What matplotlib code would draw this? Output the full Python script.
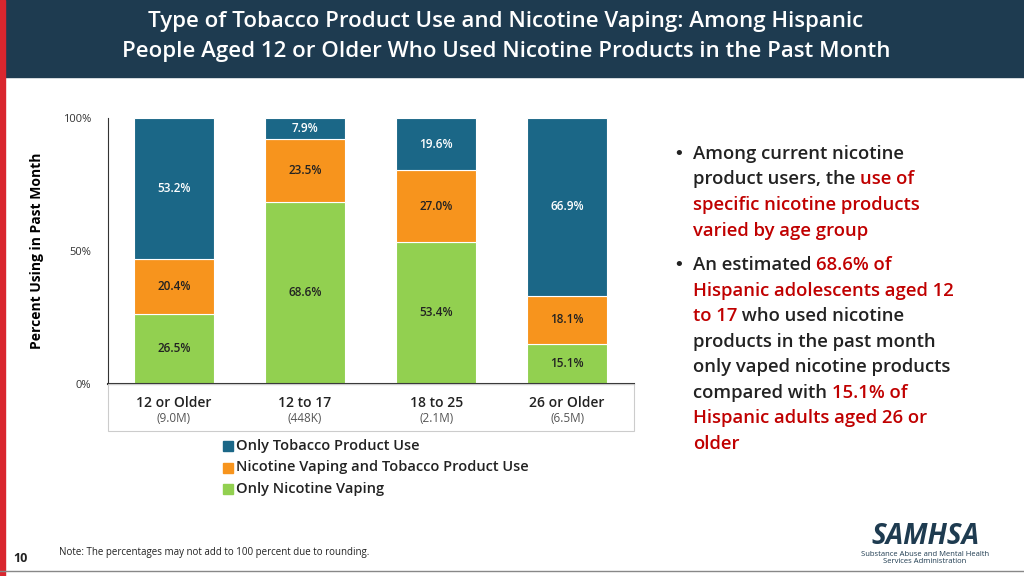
import matplotlib
matplotlib.use("Agg")
import matplotlib.pyplot as plt
from matplotlib.patches import Rectangle

categories = ["12 or Older", "12 to 17", "18 to 25", "26 or Older"]
sizes = ["(9.0M)", "(448K)", "(2.1M)", "(6.5M)"]
only_vaping = [26.5, 68.6, 53.4, 15.1]
both = [20.4, 23.5, 27.0, 18.1]
only_tobacco = [53.2, 7.9, 19.6, 66.9]
series_names = ["Only Tobacco Product Use", "Nicotine Vaping and Tobacco Product Use", "Only Nicotine Vaping"]
c_tob, c_both, c_vap = "#1b6787", "#f7941d", "#92d050"
FONT = "Open Sans"

fig = plt.figure(figsize=(10.24, 5.76), dpi=100)
fig.patch.set_facecolor("white")
fig.add_artist(Rectangle((0, 1-77/576), 1, 77/576, transform=fig.transFigure, color="#1e3b50"))
fig.add_artist(Rectangle((0, 0), 5/1024, 1, transform=fig.transFigure, color="#d9262e"))
fig.text(506/1024, 1-22/576, "Type of Tobacco Product Use and Nicotine Vaping: Among Hispanic",
         ha="center", va="center", color="white", fontsize=16, family=FONT, weight="semibold")
fig.text(506/1024, 1-52/576, "People Aged 12 or Older Who Used Nicotine Products in the Past Month",
         ha="center", va="center", color="white", fontsize=16, family=FONT, weight="semibold")

ax = fig.add_axes([108/1024, 1-384/576, 526/1024, 266/576])
x = range(len(categories))
w = 0.61
ax.bar(x, only_vaping, w, color=c_vap, edgecolor="white", linewidth=0.8)
ax.bar(x, both, w, bottom=only_vaping, color=c_both, edgecolor="white", linewidth=0.8)
b2 = [a + b for a, b in zip(only_vaping, both)]
ax.bar(x, only_tobacco, w, bottom=b2, color=c_tob, edgecolor="white", linewidth=0.8)
for i in x:
    ax.text(i, only_vaping[i]/2, f"{only_vaping[i]:.1f}%", ha="center", va="center", fontsize=8.5, family=FONT, weight="semibold", color="#222")
    ax.text(i, only_vaping[i] + both[i]/2, f"{both[i]:.1f}%", ha="center", va="center", fontsize=8.5, family=FONT, weight="semibold", color="#222")
    ax.text(i, b2[i] + only_tobacco[i]/2, f"{only_tobacco[i]:.1f}%", ha="center", va="center", fontsize=8.5, family=FONT, weight="semibold", color="white")
ax.set_xlim(-0.504, 3.51)
ax.set_ylim(0, 100)
ax.set_yticks([0, 50, 100])
ax.set_yticklabels(["0%", "50%", "100%"], fontsize=8, family=FONT, color="#333")
ax.tick_params(axis="y", length=0, pad=12)
ax.set_xticks([])
for s in ["top", "right"]:
    ax.spines[s].set_visible(False)
ax.spines["left"].set_color("#333")
ax.spines["bottom"].set_color("#333")
ax.spines["bottom"].set_linewidth(1.5)
ax.set_ylabel("Percent Using in Past Month", fontsize=10, family=FONT, weight="bold", labelpad=14)
for i in x:
    ax.text(i, -7, categories[i], ha="center", va="center", fontsize=10, family=FONT, weight="semibold", color="#222")
    ax.text(i, -13, sizes[i], ha="center", va="center", fontsize=8.5, family=FONT, color="#555")
fig.add_artist(Rectangle((108/1024, 1-431/576), 526/1024, 47/576, transform=fig.transFigure,
                         fill=False, edgecolor="#cccccc", linewidth=0.8))
for j, (name, col) in enumerate(zip(series_names, [c_tob, c_both, c_vap])):
    yy = 1 - (446 + 21.5*j)/576
    fig.add_artist(Rectangle((223/1024, yy-5/576), 10/1024, 10/576, transform=fig.transFigure, color=col))
    fig.text(236/1024, yy, name, va="center", fontsize=10.5, family=FONT, weight="semibold", color="#222")

red = "#c00000"
lines = [
    [("Among current nicotine", "#222")],
    [("product users, the ", "#222"), ("use of", red)],
    [("specific nicotine products", red)],
    [("varied by age group", red)],
    None,
    [("An estimated ", "#222"), ("68.6% of", red)],
    [("Hispanic adolescents aged 12", red)],
    [("to 17", red), (" who used nicotine", "#222")],
    [("products in the past month", "#222")],
    [("only vaped nicotine products", "#222")],
    [("compared with ", "#222"), ("15.1% of", red)],
    [("Hispanic adults aged 26 or", red)],
    [("older", red)],
]
fig.canvas.draw()
r = fig.canvas.get_renderer()
ys = [154, 179, 205, 231, None, 265, 291, 316, 342, 367, 393, 418, 444]
for ln, yp in zip(lines, ys):
    if ln is None:
        continue
    xp = 693
    for txt, col in ln:
        t = fig.text(xp/1024, 1-yp/576, txt, va="center", fontsize=13.3, family=FONT, weight="semibold", color=col)
        bb = t.get_window_extent(r)
        xp += bb.width
for yp in [154, 265]:
    fig.text(673/1024, 1-yp/576, "•", va="center", fontsize=13, color="#222")

fig.text(59/1024, 1-553/576, "Note: The percentages may not add to 100 percent due to rounding.", va="center", fontsize=7, family=FONT, color="#222")
fig.text(13/1024, 1-559/576, "10", va="center", fontsize=9, family=FONT, weight="bold", color="#222")
fig.add_artist(plt.Line2D([0, 1], [1-571/576]*2, transform=fig.transFigure, color="#888", lw=1))
fig.text(925/1024, 1-536/576, "SAMHSA", ha="center", va="center", fontsize=20, family=FONT, weight="bold", style="italic", color="#1e3b50")
fig.text(925/1024, 1-558/576, "Substance Abuse and Mental Health\nServices Administration", ha="center", va="center", fontsize=5.5, family=FONT, color="#1e3b50", linespacing=1.1)
fig.savefig("out.png", dpi=100)
